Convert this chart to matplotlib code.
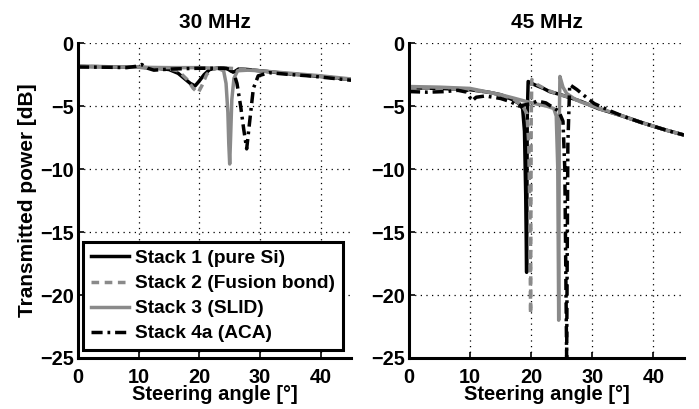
import matplotlib
matplotlib.use('Agg')
from matplotlib import pyplot as plt

plt.rcParams['font.family'] = ['Liberation Sans', 'DejaVu Sans']
plt.rcParams['font.weight'] = 'bold'

# ---- 30 MHz panel ----
s1_30_x = [0, 5, 10, 13, 15, 16.5, 17.5, 18.5, 19.3, 20.0, 20.8, 21.7, 23, 24.5, 25.3, 25.7, 26.5, 28, 30, 35, 40, 45]
s1_30_y = [-1.85, -1.88, -1.92, -2.0, -2.1, -2.4, -2.8, -3.2, -3.4, -3.0, -2.5, -2.1, -1.98, -2.0, -2.25, -2.3, -2.05, -2.1, -2.2, -2.45, -2.65, -2.9]

s2_30_x = [0, 5, 10, 13, 15, 16.5, 18, 19.0, 19.8, 20.4, 21.2, 22, 23, 25, 28, 30, 35, 40, 45]
s2_30_y = [-1.85, -1.88, -1.92, -2.0, -2.05, -2.2, -2.9, -3.6, -3.95, -3.4, -2.5, -2.1, -2.0, -2.0, -2.1, -2.2, -2.45, -2.65, -2.9]

s3_30_x = [0, 5, 10, 15, 20, 23, 24.0, 24.4, 24.7, 24.85, 25.0, 25.15, 25.35, 25.7, 26.3, 28, 30, 35, 40, 45]
s3_30_y = [-1.85, -1.88, -1.92, -1.95, -1.95, -2.0, -2.2, -3.2, -5.5, -8.0, -9.6, -7.5, -4.5, -2.8, -2.2, -2.15, -2.2, -2.4, -2.6, -2.85]

s4_30_x = [0, 5, 8, 9.5, 10.5, 11.5, 12.5, 14, 16, 20, 24, 25.5, 26.2, 26.8, 27.3, 27.8, 28.3, 28.9, 29.7, 31.5, 35, 38, 42, 45]
s4_30_y = [-1.9, -1.92, -1.95, -1.85, -1.7, -2.0, -2.15, -2.1, -2.05, -2.0, -2.0, -2.1, -3.2, -5.0, -6.8, -8.4, -6.2, -3.6, -2.6, -2.35, -2.5, -2.6, -2.8, -2.95]

# ---- 45 MHz panel ----
s1_45_x = [0, 5, 10, 13, 15, 17, 18, 18.6, 18.9, 19.1, 19.25, 19.35, 19.5, 20.5, 22, 23, 24.5, 25.8, 28, 31, 35, 38, 42, 45]
s1_45_y = [-3.55, -3.6, -3.7, -3.9, -4.1, -4.5, -4.8, -5.2, -7.0, -12.0, -18.2, -6.0, -3.05, -3.3, -3.6, -3.85, -4.05, -4.25, -4.6, -5.2, -5.8, -6.3, -6.9, -7.3]

s2_45_x = [0, 5, 10, 13, 15, 17, 18.5, 19.3, 19.6, 19.8, 19.9, 20.0, 20.1, 21, 22.5, 24, 25.8, 28, 31, 35, 38, 42, 45]
s2_45_y = [-3.55, -3.6, -3.7, -3.9, -4.1, -4.5, -4.9, -5.6, -8.0, -14.0, -21.5, -6.0, -2.9, -3.3, -3.7, -4.0, -4.25, -4.6, -5.2, -5.8, -6.3, -6.9, -7.3]

s3_45_x = [0, 5, 10, 15, 17, 19.3, 21, 22.5, 23.7, 24.1, 24.35, 24.5, 24.6, 24.7, 25.2, 25.8, 27, 28, 31.3, 35, 38, 42, 45]
s3_45_y = [-3.45, -3.5, -3.6, -4.1, -4.35, -4.65, -4.85, -5.0, -5.2, -5.8, -10.0, -22.0, -6.0, -2.65, -3.5, -4.0, -4.4, -4.65, -5.2, -5.8, -6.3, -6.9, -7.3]

s4_45_x = [0, 3, 6, 8, 9.5, 10.3, 11, 12.5, 15, 16.6, 18, 20, 21, 22.4, 24.5, 25.2, 25.5, 25.8, 26.0, 26.3, 27.5, 29, 30.3, 33, 35, 38, 42, 45]
s4_45_y = [-3.85, -3.9, -3.85, -3.75, -3.9, -4.6, -4.3, -4.2, -4.4, -4.65, -5.0, -4.8, -4.6, -4.75, -5.4, -6.2, -10.0, -25.0, -8.0, -3.3, -3.7, -4.3, -4.8, -5.4, -5.8, -6.3, -6.9, -7.3]

titles = ['30 MHz', '45 MHz']
labels = ['Stack 1 (pure Si)', 'Stack 2 (Fusion bond)', 'Stack 3 (SLID)', 'Stack 4a (ACA)']
x_ticks = [0, 10, 20, 30, 40]
y_ticks = [0, -5, -10, -15, -20, -25]

panels = [
    [(s1_30_x, s1_30_y), (s2_30_x, s2_30_y), (s3_30_x, s3_30_y), (s4_30_x, s4_30_y)],
    [(s1_45_x, s1_45_y), (s2_45_x, s2_45_y), (s3_45_x, s3_45_y), (s4_45_x, s4_45_y)],
]

gray = '#8a8a8a'
styles = [
    dict(color='black', linestyle='-'),
    dict(color=gray, linestyle=(0, (2.2, 1.6))),
    dict(color=gray, linestyle='-'),
    dict(color='black', linestyle=(0, (3.2, 1.4, 0.8, 1.4))),
]
# draw order: solid lines first, dashed ones on top
order = [0, 2, 1, 3]

fig = plt.figure(figsize=(6.99, 4.09), dpi=100)
axes_rects = [[0.1116, 0.1247, 0.3906, 0.770], [0.5851, 0.1247, 0.3934, 0.770]]

for p, rect in enumerate(axes_rects):
    ax = fig.add_axes(rect)
    handles = [None] * 4
    for k in order:
        xs, ys = panels[p][k]
        h, = ax.plot(xs, ys, linewidth=2.5, label=labels[k], **styles[k])
        handles[k] = h
    ax.set_xlim(0, 45)
    ax.set_ylim(-25, 0)
    ax.set_xticks(x_ticks)
    ax.set_yticks(y_ticks)
    ax.set_yticklabels(['0', '\u22125', '\u221210', '\u221215', '\u221220', '\u221225'])
    ax.tick_params(direction='in', length=4, width=1.2, labelsize=14.3)
    ax.tick_params(axis='x', pad=7)
    ax.tick_params(axis='y', pad=3)
    for side in ['top', 'right']:
        ax.spines[side].set_visible(False)
    for side in ['left', 'bottom']:
        ax.spines[side].set_linewidth(2.2)
    ax.grid(True, color='black', linestyle=(0, (1, 3.5)), linewidth=0.9)
    ax.set_axisbelow(True)
    ax.set_title(titles[p], fontsize=15, fontweight='bold', pad=11)
    ax.set_xlabel('Steering angle [\u00b0]', fontsize=14.5, fontweight='bold', labelpad=-1)
    if p == 0:
        ax.set_ylabel('Transmitted power [dB]', fontsize=15, fontweight='bold', labelpad=2)
        leg = ax.legend(handles=handles, loc='lower left', bbox_to_anchor=(0.02, 0.025),
                        fontsize=13.8, frameon=True, fancybox=False, labelspacing=0.4,
                        handlelength=2.0, handletextpad=0.3, borderpad=0.4, borderaxespad=0)
        leg.get_frame().set_edgecolor('black')
        leg.get_frame().set_linewidth(2.2)
        leg.get_frame().set_alpha(1.0)

fig.savefig('out.png', dpi=100)
